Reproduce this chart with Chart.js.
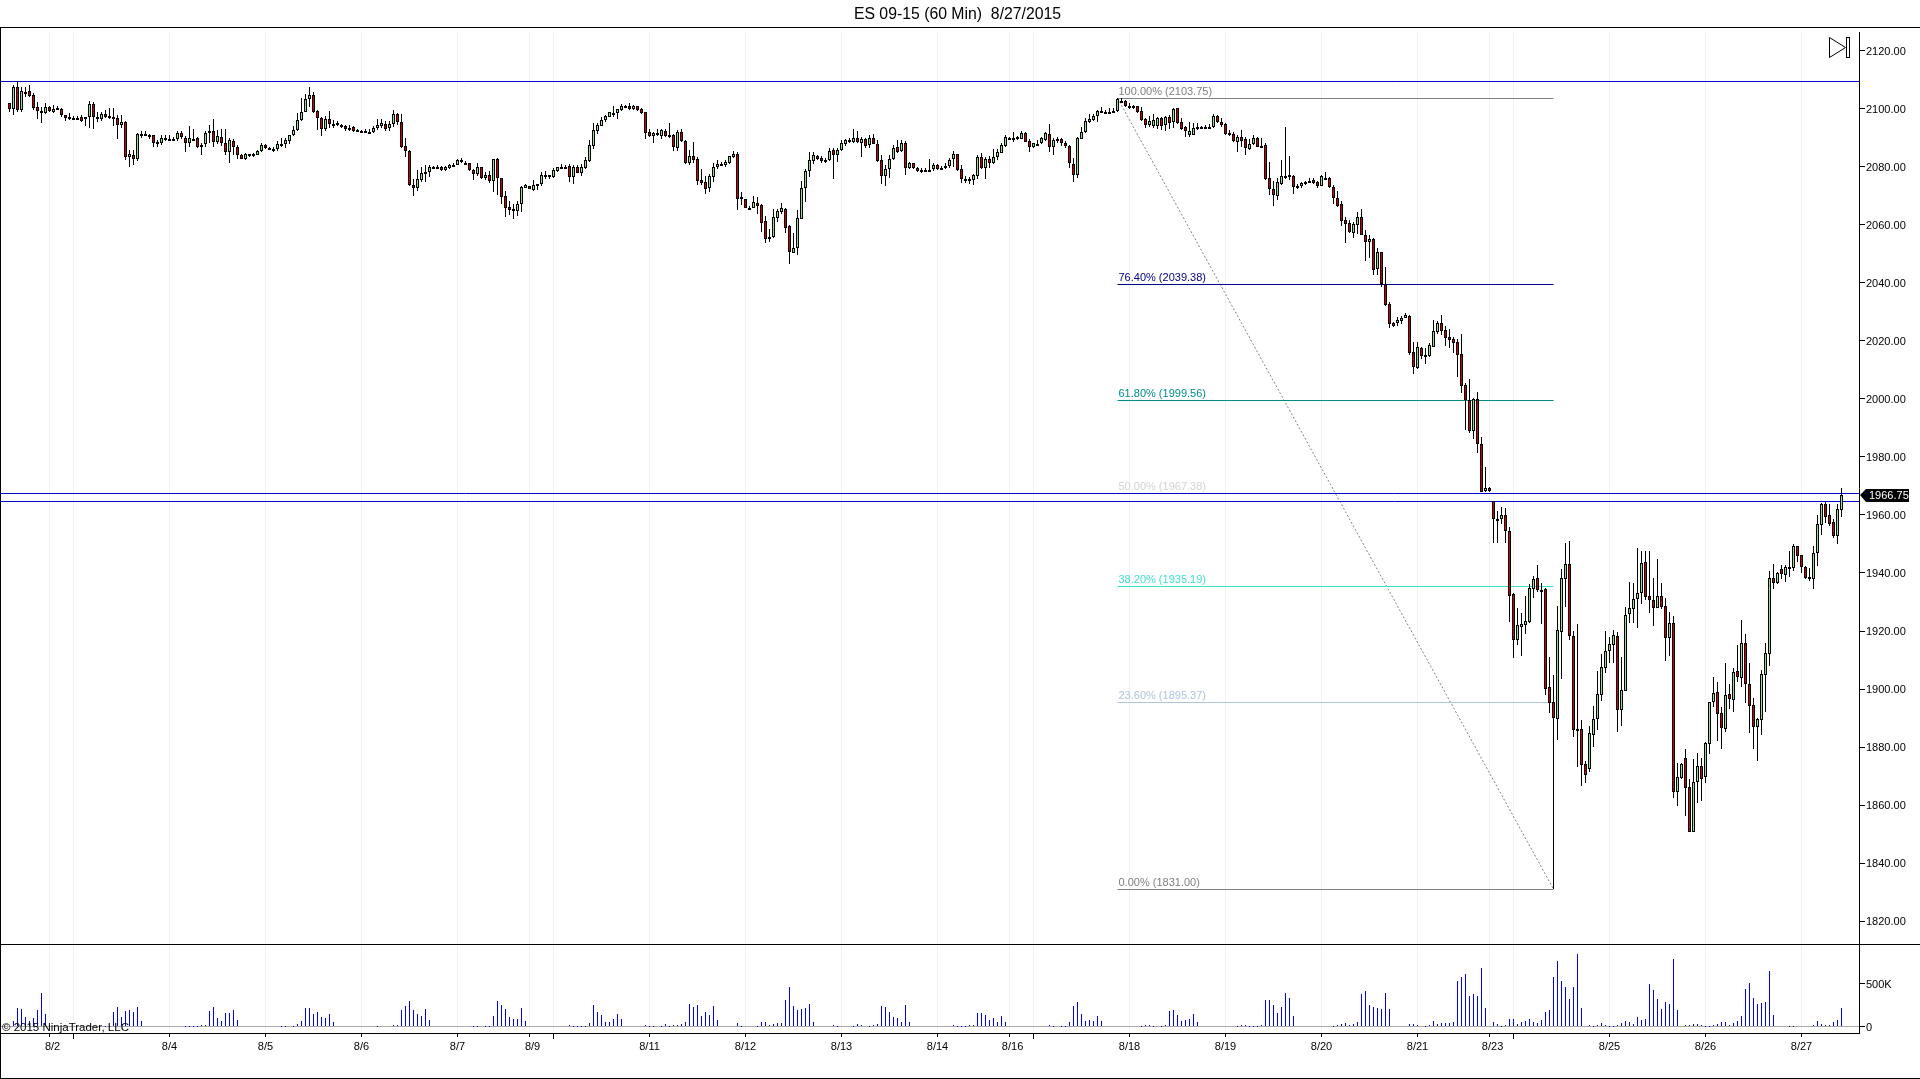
<!DOCTYPE html>
<html>
<head>
<meta charset="utf-8">
<title>ES 09-15 (60 Min) 8/27/2015</title>
<script src="https://cdn.jsdelivr.net/npm/chart.js@4"></script>
<style>
body { margin: 0; background: #fff; overflow: hidden; }
canvas { position: absolute; left: 0; }
.rule { position: absolute; background: #000; }
</style>
</head>
<body>
<canvas id="priceChart" width="1914" height="945" style="top:0"></canvas>
<canvas id="volumeChart" width="1914" height="135" style="top:944px"></canvas>
<div class="rule" style="left:0;top:27px;width:1920px;height:1px"></div>
<div class="rule" style="left:0;top:944px;width:1920px;height:1px"></div>
<div class="rule" style="left:0;top:1033px;width:1859px;height:1px"></div>
<div class="rule" style="left:0;top:1078px;width:1920px;height:1px"></div>
<div class="rule" style="left:0;top:27px;width:1px;height:1052px"></div>
<script>
// 60 minute bars, one entry per bar
const opens = [
2102,2100.1,2107.5,2099.7,2106,2106.1,2104.7,2100.8,2099.2,2098.7,
2100.6,2099.1,2100.3,2100.1,2097.8,2097.1,2097,2097,2097.1,2096.4,
2097.1,2101.6,2097.4,2096.4,2098.2,2097.6,2097.1,2096.8,2094.4,2095.4,
2083.6,2084,2082.6,2091.5,2091.4,2090.9,2090.9,2087.8,2088.2,2089.9,
2089.7,2089.5,2089.8,2091.8,2090.1,2088.2,2089.8,2089.9,2087.5,2087.9,
2092,2092.3,2088.7,2090.2,2088.2,2085,2088.9,2087,2084.1,2082.6,
2084.4,2084,2084.3,2085.6,2087.7,2086.5,2086.2,2086.3,2088,2088,
2089.1,2090.9,2092.6,2096.1,2099.1,2103.3,2104.8,2099.2,2097,2093.2,
2096.4,2094.7,2094.4,2094.5,2094,2093.6,2093.8,2092.8,2092.5,2092.5,
2092.1,2092.1,2093.5,2094.3,2094.8,2093.5,2094.7,2098.2,2095.4,2087.4,
2085.5,2073.7,2072.6,2075.5,2078.2,2078.3,2080,2080.1,2080.1,2079,
2079.5,2080.1,2080.8,2082.5,2081.5,2081.3,2078.9,2077.6,2079.9,2076.2,
2077.2,2075.3,2082.9,2076.1,2070,2066.2,2065.4,2064.9,2067.1,2072.8,
2073.4,2072.2,2073.4,2074.2,2077.1,2077.1,2076.4,2078.7,2080.1,2080.1,
2080.2,2076.4,2080,2078,2079.7,2082,2087.4,2092.5,2094.3,2096.2,
2097.2,2098.7,2098.6,2099.7,2101,2100.9,2100,2100.9,2099.9,2098.9,
2092,2090.7,2091.6,2090.7,2092.4,2090.9,2090.9,2086.7,2092.1,2089,
2081.5,2083.7,2082.6,2075.4,2074.7,2072.6,2076.4,2080.1,2080.9,2080.8,
2081.5,2083.6,2084.4,2069.5,2068.9,2066,2066,2067.5,2066.9,2061.3,
2055.7,2056,2062.5,2064.6,2065.4,2059.7,2050.5,2051.9,2062.2,2072.9,
2078.7,2082.2,2083.7,2083.1,2082.3,2082.4,2085.7,2084.1,2085.9,2087.9,
2089.2,2088.7,2089.9,2088.3,2089.8,2087.7,2089.9,2087.8,2082.4,2077,
2079.2,2082.6,2086.8,2085.6,2088.2,2079.8,2081.3,2079.5,2078.9,2079.1,
2079.1,2079.3,2080.6,2079.8,2079.7,2080.3,2082.6,2084.4,2079.2,2075.9,
2075.7,2075.4,2077,2083.3,2079.8,2082.6,2081.5,2083.6,2084.9,2087.4,
2089.9,2090.1,2090.5,2089.8,2091.7,2089.1,2086.8,2088,2088.2,2089.4,
2091.3,2087,2089,2089.7,2088.2,2087.2,2080.9,2077.2,2089.8,2092,
2095.6,2096.2,2097.5,2099.4,2099.1,2098.4,2099.4,2099.3,2102.9,2102.8,
2101,2100.9,2100.9,2099.3,2096.4,2094.4,2094.3,2094.3,2097,2094.4,
2097.4,2095.5,2100.2,2095.4,2093.8,2091,2091.1,2093.7,2093.8,2093.8,
2093.8,2093.7,2097.6,2095.6,2094.7,2091.6,2091.4,2088.7,2090.5,2089.5,
2086.3,2087.8,2090,2087.2,2087.5,2076.1,2072.4,2070.1,2074.1,2077,
2077.1,2076.9,2073.6,2073.6,2074.7,2075.3,2075.4,2074.8,2073.6,2076.3,
2076.2,2073.2,2069.2,2067.1,2061.6,2060.6,2057.4,2060.1,2062.8,2056.6,
2054.3,2055.2,2044.7,2050.6,2039.5,2032.6,2026.1,2026.3,2026.9,2028,
2028.6,2016.1,2010.8,2017.5,2015.2,2014.8,2018,2023.2,2026.1,2023.8,
2021.3,2020.7,2019.5,2015.4,2004.7,1999.7,1989.1,2000,1984.4,1968.3,
1969.2,1964.7,1958.5,1958.7,1959.9,1954.6,1932.6,1917,1921.5,1922.2,
1923.2,1934.6,1938.2,1934.3,1934.4,1900.6,1895.4,1889.8,1919.8,1938.1,
1943,1918.2,1886.1,1886.1,1874,1872.5,1884.3,1889.8,1898.1,1907.4,
1913.2,1915.3,1918.2,1892.9,1899.4,1925.9,1927.7,1931,1933.1,1943.7,
1932,1930.6,1928.1,1932,1928.5,1917.7,1922.6,1864.6,1869.4,1876.1,
1866.1,1850.6,1867.8,1873.3,1869.5,1880.9,1895.6,1898.9,1891.6,1886.3,
1898.2,1896.3,1906.1,1903.9,1915.7,1901.6,1894.4,1887,1889.4,1904.7,
1912,1938.2,1936.7,1941.3,1939.4,1942.2,1941.8,1949.2,1946.1,1942,
1938.5,1938.1,1946.8,1956.7,1963.8,1959.9,1957.5,1952.9,1961.8
];
const closes = [
2100.1,2107.5,2099.7,2106.1,2106,2104.6,2100.5,2099.4,2098.9,2100.8,
2099.4,2100.1,2100.3,2097.8,2097,2097.1,2097,2097,2096,2097.1,
2101.6,2097.1,2096.4,2098.2,2097.4,2097.1,2096.4,2094.4,2095.4,2083.6,
2084.4,2082.6,2091.3,2091.5,2091.4,2090.9,2088.2,2088.5,2089.9,2089.9,
2089.7,2089.5,2091.7,2090.2,2088.2,2090,2089.8,2087,2087.5,2091.6,
2092.3,2088.7,2090.6,2088.2,2085,2089.3,2087,2084.3,2082.9,2084.5,
2083.7,2084.4,2085.6,2087.5,2086.4,2086.5,2086.2,2087.8,2088,2089.2,
2090.9,2092.6,2096.3,2098.9,2103.3,2104.8,2099,2097,2093.2,2096.4,
2094.7,2094.7,2095.2,2093.7,2093.2,2093.6,2092.5,2092.8,2092.5,2092.5,
2092.1,2093.6,2094.4,2095,2093.2,2094.7,2098.2,2095.6,2087,2085.4,
2073.8,2072.9,2075.7,2077.8,2078.2,2080,2080,2080.1,2079.1,2079.9,
2080.6,2080.8,2082.3,2082,2081.5,2078.9,2077.6,2079.9,2076.2,2077.1,
2075.3,2082.6,2076.1,2069.8,2066,2065.3,2065.4,2067.2,2073.1,2073.8,
2072.5,2073.8,2074.1,2077.1,2077.1,2076.4,2078.9,2079.9,2080.1,2080.1,
2076.4,2079.9,2078,2080.1,2082.3,2087.5,2092.6,2094.4,2096.1,2097.6,
2098.9,2098.7,2099.9,2101,2101,2100.1,2100.9,2099.7,2098.6,2091.8,
2090.7,2091.8,2090.9,2092.6,2090.6,2090.9,2087,2092.1,2089,2081.4,
2083.7,2082.5,2075.3,2074.5,2072.5,2076.8,2079.9,2081,2080.9,2081.6,
2083.7,2084.4,2069.1,2069.1,2066,2066,2067.8,2066.7,2060.8,2055.3,
2055.2,2062.6,2064.7,2065.7,2059.1,2050.8,2052,2062.3,2072.6,2078.6,
2082.3,2084,2082.9,2082.2,2082.3,2085.4,2084.3,2085.7,2088.2,2089.3,
2089.2,2089.9,2088.6,2089.8,2087.4,2089.9,2088,2082.2,2077,2079.2,
2082.6,2086.4,2085.3,2088.2,2079.8,2081.4,2079.8,2078.6,2078.9,2079.1,
2079.1,2080.6,2079.4,2079.8,2080.5,2082.4,2084.4,2079,2076,2075.9,
2075.7,2077.1,2083.3,2079.8,2082.6,2081.5,2083.6,2085.2,2087.5,2090.2,
2089.9,2090.1,2089.8,2091.6,2088.7,2086.8,2088.2,2088,2090,2091.7,
2087,2089.2,2089.7,2088.2,2087.4,2081.3,2077.1,2089.9,2092,2095.9,
2096.6,2097.6,2099.4,2099.4,2099.1,2099.1,2099.4,2103.3,2102.9,2101,
2101,2100.9,2099.1,2096.3,2094.4,2096,2096.2,2096.9,2094.3,2097.2,
2095.2,2099.9,2095.3,2093.2,2092.5,2092.5,2093.4,2093.7,2093.8,2093.8,
2093.8,2097.6,2095.4,2094.4,2091.5,2091.4,2088.9,2090.2,2089.1,2086.4,
2087.9,2089.9,2087,2087.2,2076,2072.5,2070.5,2074.7,2077,2077,
2077.1,2073.2,2073.6,2074.4,2074.7,2075.3,2074.5,2073.6,2077,2076.3,
2073.1,2069.2,2066.7,2061.5,2060.2,2057.6,2060.3,2062.8,2056.7,2054.3,
2055.2,2044.5,2050.6,2039.7,2032.3,2026,2025.3,2027.1,2027.8,2029,
2016,2011.2,2017.8,2014.8,2015.2,2018.5,2023.3,2026.1,2023.6,2021.1,
2020.3,2019.4,2015.3,2004.6,1999.7,1989,2000,1984.6,1968,1969.2,
1968.4,1958.5,1958.5,1959.9,1954.6,1932.2,1917,1922,1922.5,1923.3,
1934.7,1937.8,1934.1,1934.3,1900.1,1895.1,1890.1,1920.2,1938.2,1943,
1918.2,1886,1886.1,1873.9,1870.5,1884.7,1889.5,1898.2,1907.5,1913.2,
1915.4,1918.5,1892.9,1899.5,1925.4,1927.8,1930.9,1933,1943.3,1931.8,
1930.8,1928.1,1932,1928.4,1917.7,1922.6,1864.6,1869.5,1874.1,1866,
1850.6,1867.8,1873.3,1869.1,1881.4,1895.4,1898.5,1891.5,1886.7,1897.8,
1896.7,1905.7,1904.2,1915.7,1901.6,1894.3,1887,1889.6,1905.1,1912.3,
1938.2,1936.7,1939.9,1939.8,1942,1942.2,1949.2,1946,1942.2,1938.4,
1938,1946.8,1956.8,1963.8,1959.4,1956.9,1952.8,1962,1966.75
];
const highs = [
2102,2108.25,2109.5,2107.5,2107.5,2108.25,2105.5,2102.5,2100.75,2102,
2101,2101.5,2101,2100.5,2098,2098.5,2097.5,2097.5,2098,2097.25,
2102.75,2102.5,2099,2099,2099.75,2100.25,2100.25,2098,2098,2095.75,
2086,2086,2091.75,2092.5,2092.25,2091.5,2091,2089.25,2091,2091,
2091,2090.25,2092.25,2092.5,2090.75,2094,2093,2090.25,2088.25,2092.25,
2094.5,2096.5,2092.75,2093,2093,2090,2089.5,2087.5,2084.5,2084.75,
2084.5,2084.75,2086,2088.25,2088,2086.75,2086.75,2089,2090,2090,
2091,2094.25,2098.5,2103.75,2105,2107.5,2105.75,2099.75,2097.25,2097.5,
2099.25,2096.25,2095.75,2094.75,2094.5,2094.5,2094.25,2093.25,2092.75,2093,
2093,2094,2096.5,2096.5,2095.75,2095.75,2099.75,2098.5,2098.25,2090,
2086,2076,2079,2080,2080.75,2080.75,2080.5,2080.75,2080.25,2080.25,
2081,2081.25,2082.75,2083,2082,2081.5,2079.25,2081.5,2080,2078.25,
2078.5,2082.75,2083,2076,2071.75,2068.25,2067.25,2068.25,2073.5,2074.25,
2073.5,2075.5,2074.25,2078.25,2078.5,2077.25,2079.5,2080,2081,2080.75,
2081,2080.75,2080.75,2081,2083.5,2089.25,2095,2095.25,2097.25,2098,
2099,2101,2100,2101.75,2101.5,2102,2101.25,2101,2100.5,2099,
2093,2092,2093.25,2093,2093,2095.25,2091.5,2092.75,2093,2089.25,
2086,2088.5,2083.5,2079.25,2076.75,2077.5,2081.25,2082.5,2081.75,2082.5,
2083.75,2085.5,2085.25,2071.25,2069,2066.5,2070,2069.5,2067.25,2063,
2058.75,2065.5,2065.5,2067.5,2065.75,2060,2057.25,2065.25,2075,2079.25,
2085.25,2085.25,2084.25,2083.75,2083,2086.5,2086.5,2086.5,2089.25,2089.5,
2090,2093.25,2092.25,2090.25,2090,2091,2091.5,2089.25,2084.25,2080.75,
2084.25,2087.5,2089.25,2089.25,2089,2081.75,2081.5,2080,2079.5,2079.5,
2082.75,2081.5,2081,2080.5,2081.25,2083,2085.5,2084.5,2080.7,2076.9,
2076.4,2077.6,2084.1,2084.7,2083.6,2083.8,2086.1,2086.1,2088.2,2091,
2090.5,2092.1,2090.7,2092.4,2092,2089.6,2088.4,2089.3,2090.5,2092.2,
2094.8,2089.9,2090.2,2089.9,2089.1,2087.6,2083,2090.2,2093.9,2096.8,
2098.2,2098.3,2099.7,2100.8,2099.7,2100.2,2100.2,2103.7,2103.7,2103.1,
2102,2101.5,2101,2100.8,2096.8,2097.6,2098.2,2097.4,2097.4,2097.6,
2097.9,2100.2,2100.5,2096.8,2094.1,2095.6,2095,2095.3,2094.3,2094.5,
2094.7,2098.2,2097.9,2096.8,2095.3,2092.8,2092.2,2091,2092.8,2090.2,
2089.5,2091,2090.5,2089.9,2088.2,2081.7,2075.2,2076.1,2082.4,2093.7,
2083.8,2077.2,2074.1,2074.9,2075.3,2076.1,2076.1,2075.3,2077.2,2078.2,
2076.4,2073.8,2071.8,2068.4,2062.9,2061.7,2061.1,2064.6,2065.5,2058.3,
2056.6,2055.4,2052,2050.8,2045.4,2033.3,2026.7,2028.2,2028.6,2029.5,
2029,2019.6,2019.6,2017.8,2017.5,2019.2,2027.2,2026.9,2029,2025.2,
2024,2021.3,2020.7,2022.4,2005.4,2006.9,2000.2,2002.4,1986.8,1976.4,
1969.8,1964.7,1961.5,1962.6,1962.3,1955.7,1933,1927.8,1926.1,1932.1,
1936.1,1939,1942.8,1936.4,1934.7,1910.9,1904.8,1928.6,1941.4,1950.2,
1951,1920.1,1922.4,1889.3,1875.3,1887.2,1894.1,1906.2,1912.1,1920,
1917.8,1920.3,1919.8,1911.2,1928.4,1937,1936.7,1948.5,1947.6,1947.6,
1947.6,1938.4,1944.8,1936.7,1931.3,1926.4,1925.2,1874.4,1874.4,1879.2,
1869,1875.8,1877.8,1876.1,1881.8,1895.6,1904.3,1902.4,1893.7,1909,
1901.7,1907.1,1915.2,1923.8,1919,1909,1896.8,1889.9,1906.6,1915.9,
1940.7,1943.1,1940.5,1942.8,1942.8,1947.6,1949.9,1949.3,1946.2,1942.4,
1941.7,1949.3,1960,1964.3,1964.6,1963.8,1958.5,1963.8,1969.2
];
const lows = [
2099.1,2097.9,2099.1,2099.1,2104,2104.3,2099.7,2096.6,2095.3,2098.2,
2099.1,2098.7,2099.7,2097.4,2096,2096.2,2096.2,2096.2,2095.6,2094.3,
2093.6,2093.2,2095.6,2095.9,2096.8,2096.4,2094.1,2089.8,2093.6,2082.4,
2080.1,2080.7,2082.1,2089.9,2090.7,2089.5,2087,2087,2087.6,2089,
2089,2089,2089,2089.5,2085.3,2087,2089,2086.4,2084.1,2087,
2088.2,2087,2087.9,2087.2,2084.1,2081.5,2084.1,2082.6,2082.6,2082.4,
2083.4,2083.4,2084,2085.3,2086.2,2086.3,2085.3,2085.6,2086.8,2086.4,
2087.9,2090.7,2092.5,2095.9,2098.9,2100.8,2098.7,2092.8,2090.8,2092.5,
2093.3,2093.6,2094.1,2093.4,2092.5,2092.5,2092,2092.1,2091.6,2091.8,
2091.3,2091.8,2092.8,2093.6,2092.3,2092.5,2093.9,2094.5,2086.7,2083.6,
2073.4,2070.1,2071.8,2074.7,2074.7,2076.4,2079.5,2079.5,2078.7,2078.7,
2079.4,2079.9,2080.6,2081.5,2080.7,2078.7,2075.5,2076.9,2076,2075.5,
2074.4,2071.5,2070.3,2067.2,2062.8,2063.4,2062.2,2063.2,2064.6,2072.6,
2072.4,2071.8,2072,2073.4,2076,2076,2076.2,2078.4,2079.2,2079.4,
2074.9,2074.1,2077.8,2077,2079.4,2081.7,2086.3,2091.4,2094.1,2095.4,
2097.1,2097.4,2096.4,2099.3,2100.5,2099.7,2099.7,2099.3,2098.4,2089.6,
2090.2,2088.4,2090.7,2089.8,2090.2,2090,2085.5,2085.6,2088.7,2081,
2080.7,2081.3,2073.8,2073.8,2070.7,2071.3,2074.9,2079.3,2080.3,2080.1,
2081,2083.1,2065.2,2066.8,2065.7,2065.2,2065.7,2063.8,2057.7,2053.9,
2054.2,2055.4,2061,2063.8,2057.1,2046.7,2050.5,2049.7,2062.2,2068,
2076.7,2081,2082.4,2081.5,2081.3,2082.2,2076,2081.8,2085.6,2087.2,
2088.4,2088.2,2088.4,2083.4,2086.7,2086.4,2087.9,2081.8,2074.1,2073.4,
2076.1,2082.4,2084.9,2085.3,2077.2,2079.4,2079.4,2078.4,2078,2078.6,
2078.6,2078.7,2079,2079,2079.2,2079.7,2079.9,2078.6,2074.6,2074.4,
2074.1,2073.8,2075.7,2079.2,2075.9,2079.5,2081,2082.4,2084.7,2087,
2089.5,2088.7,2089.3,2089.5,2088.5,2085.3,2086.4,2087.6,2087.9,2089.1,
2085.3,2084.1,2088.2,2087.2,2086.4,2079.8,2074.9,2076.1,2089.5,2091.6,
2095.3,2095.7,2095.6,2098.7,2098.5,2098.2,2098.5,2099.1,2102.2,2100.8,
2100.1,2100.1,2098.5,2096,2093.3,2093.7,2093.3,2093,2092.8,2092.5,
2093,2093.3,2094.8,2092.8,2090.5,2090.5,2090.9,2092.8,2093.2,2093.1,
2093.1,2093.4,2095.1,2093.9,2091,2090.7,2088.5,2085.3,2087,2084.3,
2085.9,2087.6,2086.8,2086.4,2075.5,2070.3,2066.6,2068.6,2073.8,2075.7,
2075.5,2070.7,2072.3,2072.6,2073.8,2074.4,2074,2072.6,2073.4,2075.5,
2072.8,2067.2,2066.3,2059.8,2053.7,2057.1,2055.4,2056.9,2056.6,2047.7,
2048.7,2042.8,2042.8,2038.7,2032.1,2024.6,2024.9,2025.3,2025.9,2027.8,
2015.2,2008.6,2010.4,2013.8,2012.1,2014.6,2017.8,2022.4,2022.1,2018.3,
2017.7,2015.7,2007.7,2002.2,1989.3,1988.4,1986.2,1981.5,1967.8,1968,
1967.8,1950.5,1950.5,1956.9,1950.5,1923.2,1910.8,1915.2,1911.5,1919,
1922.6,1931.3,1933.6,1922.4,1897.9,1891.8,1831,1882.4,1903.4,1928.4,
1916.9,1883.6,1873.2,1866.7,1867.7,1871.4,1880.1,1885.9,1896,1905.4,
1909.1,1908.9,1885.3,1887.2,1899.4,1922.6,1922.6,1921.2,1929.3,1930.7,
1926.3,1921.8,1927.8,1927.5,1909.8,1911.5,1862.5,1859.8,1868.8,1856.3,
1850.6,1850.6,1860.6,1861.5,1867.7,1877.6,1893.9,1882.1,1879.3,1885.2,
1893.1,1892.1,1902.4,1900.8,1895.3,1885,1879.3,1875.2,1884.1,1892.1,
1907.9,1934.5,1936.2,1938,1937,1938.7,1940.8,1943.9,1940.1,1938,
1937.4,1934.6,1942.4,1953.1,1957.4,1956.2,1952.2,1950,1959.4
];
// volume in thousands of contracts
const volumesK = [
0,74,225,213,120,74,109,202,399,155,
0,0,0,0,0,0,0,0,0,0,
0,0,0,0,15,15,178,236,120,190,
202,178,236,74,0,0,0,0,0,0,
0,0,0,0,15,15,15,15,27,27,
190,236,109,74,167,167,202,85,0,0,
0,0,0,0,0,0,0,0,15,15,
0,15,39,74,225,225,155,178,120,109,
155,62,0,0,0,0,0,0,0,0,
0,0,15,0,0,0,27,27,202,248,
306,202,155,132,213,85,0,0,0,0,
0,0,0,0,0,0,15,15,0,15,
15,132,306,260,213,120,97,97,225,74,
0,0,0,0,0,0,0,0,0,0,
27,15,15,15,15,50,260,178,143,62,
62,97,155,97,0,0,0,0,0,20,
15,15,0,15,31,15,27,27,39,62,
271,236,260,132,178,143,248,85,0,0,
0,0,50,15,0,0,0,15,62,62,
27,39,50,50,318,469,248,202,213,225,
271,62,0,0,0,0,27,15,0,0,
0,15,39,27,0,15,27,39,248,236,
178,120,109,62,260,62,0,0,0,0,
0,0,0,0,0,0,27,15,15,15,
27,27,167,167,143,85,109,62,132,62,
0,0,0,0,0,0,0,0,0,0,
27,15,0,15,15,62,248,295,155,74,
85,74,132,74,0,0,0,0,0,0,
0,0,0,15,27,27,15,0,15,27,
190,202,143,74,85,97,155,62,0,0,
0,0,0,0,0,0,0,15,27,27,
15,15,15,27,318,318,260,167,236,399,
341,132,0,0,0,0,0,0,0,0,
0,15,27,39,50,27,39,62,388,422,
260,236,225,213,399,213,0,0,0,0,
39,39,27,0,15,27,74,39,50,50,
50,62,539,585,620,364,388,364,690,225,
0,62,39,15,27,97,97,39,62,74,
97,62,50,85,178,202,585,771,539,469,
329,469,853,225,0,27,15,27,50,27,
15,15,27,50,74,62,39,120,85,97,
504,434,329,213,295,271,795,202,0,27,
27,39,39,27,15,15,27,39,62,62,
27,50,74,132,446,516,341,271,283,295,
655,143,0,0,0,15,15,0,0,0,
0,27,74,39,27,27,62,85,225
];

const priceTicks = [1820,1840,1860,1880,1900,1920,1940,1960,1980,2000,2020,2040,2060,2080,2100,2120];
const volumeTicks = [0,500];
const timeTickBars = [10,16,40,64,88,112,130,136,160,184,208,232,250,256,280,304,328,352,370,376,400,424,448];
const timeTickLabels = ['8/2','','8/4','8/5','8/6','8/7','8/9','','8/11','8/12','8/13','8/14','8/16','','8/18','8/19','8/20','8/21','8/23','','8/25','8/26','8/27'];
const sessionBreaks = [16,136,256,376];

// fibonacci retracement drawn from the 8/18 high to the 8/24 low
const fibStartBar = 277;
const fibEndBar = 386;
const fibLevels = [2103.75,2039.38,1999.56,1967.38,1935.19,1895.37,1831];
const fibLabels = ['100.00% (2103.75)','76.40% (2039.38)','61.80% (1999.56)','50.00% (1967.38)','38.20% (1935.19)','23.60% (1895.37)','0.00% (1831.00)'];
const fibColors = ['#808080','#00008b','#008b8b','#d3d3d3','#40e0d0','#b0c4de','#808080'];
const blueLevels = [2109.48,1967.41,1964.65];
const lastPrice = 1966.75;

const FONT = "'Liberation Sans', Arial, sans-serif";
Chart.defaults.font.family = FONT;
Chart.defaults.font.size = 11;
Chart.defaults.color = '#000';

const barsAll = opens.map((o, i) => i);

// snap marks to whole pixels, the original chart draws without antialiasing
const snapPlugin = {
    id: 'snap',
    afterDatasetUpdate(chart, args) {
        const meta = chart.getDatasetMeta(args.index);
        const ds = chart.data.datasets[args.index];
        if (meta.type === 'bar') {
            meta.data.forEach(el => {
                const top = Math.round(Math.min(el.y, el.base));
                let bottom = Math.round(Math.max(el.y, el.base));
                if (bottom - top < ds.minRows) bottom = top + ds.minRows;
                el.y = top;
                el.base = bottom;
                el.height = bottom - top;
            });
        } else if (meta.data.length === 2 && meta.data[0].y === meta.data[1].y) {
            const y = Math.round(meta.data[0].y - 0.5) + 0.5;
            meta.data[0].y = y;
            meta.data[1].y = y;
        }
    }
};

const priceOverlay = {
    id: 'priceOverlay',
    afterDatasetsDraw(chart) {
        const { ctx, scales } = chart;
        ctx.save();
        ctx.font = '11px ' + FONT;
        ctx.textBaseline = 'middle';
        ctx.textAlign = 'left';
        const labelX = scales.x.getPixelForValue(fibStartBar) + 1;
        fibLevels.forEach((level, i) => {
            ctx.fillStyle = fibColors[i];
            ctx.fillText(fibLabels[i], labelX, scales.y.getPixelForValue(level) - 6.5);
        });
        ctx.restore();
    },
    afterDraw(chart) {
        const { ctx, scales } = chart;
        const y = Math.round(scales.y.getPixelForValue(lastPrice));
        // last price tag on the axis
        ctx.save();
        ctx.fillStyle = '#000';
        ctx.beginPath();
        ctx.moveTo(1860, y);
        ctx.lineTo(1866, y - 6);
        ctx.lineTo(1909, y - 6);
        ctx.lineTo(1909, y + 7);
        ctx.lineTo(1866, y + 7);
        ctx.closePath();
        ctx.fill();
        ctx.fillStyle = '#fff';
        ctx.font = '11px ' + FONT;
        ctx.textBaseline = 'middle';
        ctx.textAlign = 'left';
        ctx.fillText(lastPrice.toFixed(2), 1869, y + 1);
        // scroll to end button
        ctx.strokeStyle = '#000';
        ctx.lineWidth = 1;
        ctx.beginPath();
        ctx.moveTo(1829.5, 37.5);
        ctx.lineTo(1829.5, 57.5);
        ctx.lineTo(1845.5, 47.5);
        ctx.closePath();
        ctx.stroke();
        ctx.strokeRect(1846.5, 37.5, 3, 20);
        ctx.restore();
    }
};

const volumeOverlay = {
    id: 'volumeOverlay',
    afterDraw(chart) {
        const { ctx, scales, chartArea } = chart;
        ctx.save();
        ctx.strokeStyle = '#000';
        ctx.lineWidth = 1;
        sessionBreaks.forEach(bar => {
            const x = scales.x.getPixelForValue(bar);
            ctx.beginPath();
            ctx.moveTo(x, chartArea.bottom);
            ctx.lineTo(x, chartArea.bottom + 6);
            ctx.stroke();
        });
        ctx.fillStyle = '#000';
        ctx.font = '11.5px ' + FONT;
        ctx.textBaseline = 'middle';
        ctx.textAlign = 'left';
        ctx.fillText('\u00a9 2015 NinjaTrader, LLC', 2, scales.y.getPixelForValue(0) + 1);
        ctx.restore();
    }
};

// right hand axis: fixed width and no inset from its first and last label
function fitValueAxis(scale) {
    scale.width = 55;
    scale.paddingTop = 0;
    scale.paddingBottom = 0;
}

function timeScale(showLabels) {
    return {
        type: 'linear',
        min: -2.125,
        max: 462.375,
        offset: false,
        afterBuildTicks(scale) {
            scale.ticks = timeTickBars.map(value => ({ value }));
        },
        afterFit(scale) {
            scale.height = showLabels ? 46 : 0;
        },
        border: { display: false },
        grid: { offset: false, color: '#f2f2f2', tickColor: '#000', drawTicks: showLabels, tickLength: 4 },
        ticks: {
            display: showLabels,
            autoSkip: false,
            maxRotation: 0,
            padding: 3,
            color: '#000',
            font: { size: 11 },
            callback(value, index) {
                const label = timeTickLabels[index];
                // these sit a little right of their grid line
                return ['8/2', '8/9', '8/16', '8/23'].includes(label) ? '  ' + label : label;
            }
        }
    };
}

const fibDatasets = fibLevels.map((level, i) => ({
    type: 'line',
    data: [{ x: fibStartBar, y: level }, { x: fibEndBar, y: level }],
    borderColor: fibColors[i],
    borderWidth: 1,
    pointRadius: 0,
    order: 4
}));

const blueDatasets = blueLevels.map(level => ({
    type: 'line',
    data: [{ x: -2.125, y: level }, { x: 462.375, y: level }],
    borderColor: '#0000d0',
    borderWidth: 1,
    pointRadius: 0,
    order: 3
}));

new Chart(document.getElementById('priceChart'), {
    type: 'bar',
    data: {
        datasets: [
            {
                data: barsAll.map(i => ({ x: i, y: [opens[i], closes[i]] })),
                backgroundColor: barsAll.map(i => closes[i] >= opens[i] ? '#90e090' : '#cc0000'),
                borderColor: '#000',
                borderWidth: 1,
                borderSkipped: false,
                barThickness: 3,
                grouped: false,
                inflateAmount: 0,
                minRows: 2,
                order: 1
            },
            {
                data: barsAll.map(i => ({ x: i, y: [lows[i], highs[i]] })),
                backgroundColor: '#000',
                borderWidth: 0,
                barThickness: 1,
                grouped: false,
                inflateAmount: 0,
                minRows: 1,
                order: 2
            },
            ...blueDatasets,
            ...fibDatasets,
            {
                type: 'line',
                data: [{ x: fibStartBar, y: fibLevels[0] }, { x: fibEndBar, y: fibLevels[6] }],
                borderColor: '#808080',
                borderWidth: 1,
                borderDash: [2, 2],
                pointRadius: 0,
                order: 5
            }
        ]
    },
    options: {
        responsive: false,
        animation: false,
        events: [],
        layout: { padding: { left: 1, bottom: 1 } },
        plugins: {
            legend: { display: false },
            tooltip: { enabled: false },
            title: {
                display: true,
                text: 'ES 09-15 (60 Min)  8/27/2015',
                color: '#000',
                font: { size: 15.8, weight: 'normal', lineHeight: 1.2 },
                padding: { top: 5, bottom: 8.04 }
            }
        },
        scales: {
            x: timeScale(false),
            y: {
                position: 'right',
                min: 1812.07,
                max: 2126.55,
                afterFit: fitValueAxis,
                afterBuildTicks(scale) {
                    scale.ticks = priceTicks.map(value => ({ value }));
                },
                border: { color: '#000' },
                grid: { drawOnChartArea: false, color: '#000', tickLength: 6 },
                ticks: { padding: 1, labelOffset: 1, color: '#000', font: { size: 11 }, callback: v => v.toFixed(2) }
            }
        }
    },
    plugins: [snapPlugin, priceOverlay]
});

new Chart(document.getElementById('volumeChart'), {
    type: 'bar',
    data: {
        datasets: [{
            data: barsAll.filter(i => volumesK[i] > 0).map(i => ({ x: i, y: [0, volumesK[i]] })),
            backgroundColor: '#0000ff',
            borderWidth: 0,
            barThickness: 1,
            grouped: false,
            inflateAmount: 0,
            minRows: 1
        }]
    },
    options: {
        responsive: false,
        animation: false,
        events: [],
        layout: { padding: { left: 1, top: 1 } },
        plugins: { legend: { display: false }, tooltip: { enabled: false } },
        scales: {
            x: timeScale(true),
            y: {
                position: 'right',
                min: -69.8,
                max: 953.5,
                afterFit: fitValueAxis,
                afterBuildTicks(scale) {
                    scale.ticks = volumeTicks.map(value => ({ value }));
                },
                border: { color: '#000' },
                grid: {
                    tickColor: '#000',
                    tickLength: 6,
                    color: ctx => ctx.tick && ctx.tick.value === 0 ? '#a9a9a9' : 'transparent'
                },
                ticks: { padding: 1, labelOffset: 1, color: '#000', font: { size: 11 }, callback: v => v === 0 ? '0' : v + 'K' }
            }
        }
    },
    plugins: [snapPlugin, volumeOverlay]
});
</script>
</body>
</html>
